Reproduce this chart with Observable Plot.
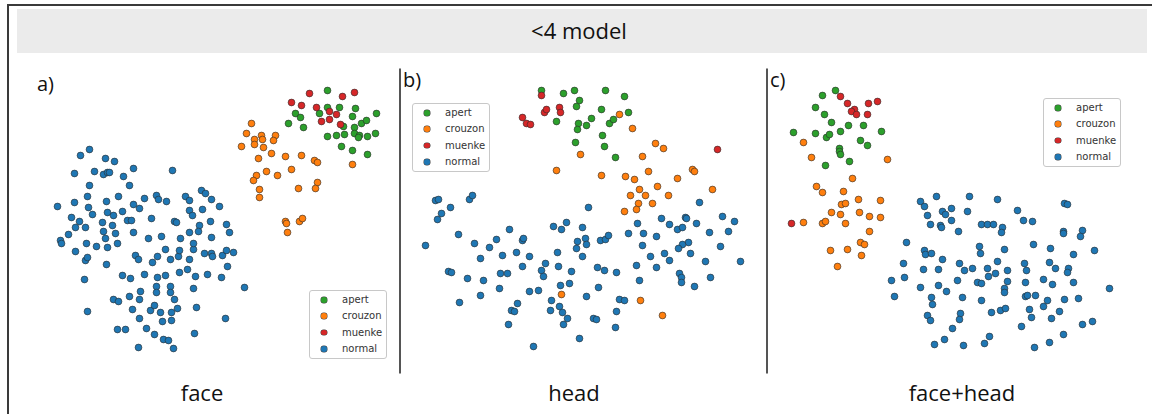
<!DOCTYPE html>
<html>
<head>
<meta charset="utf-8">
<script src="https://cdn.jsdelivr.net/npm/d3@7"></script>
<script src="https://cdn.jsdelivr.net/npm/@observablehq/plot@0.6"></script>
<style>
  html, body { margin: 0; padding: 0; background: #fff; }
  #root { position: relative; width: 1152px; height: 414px; overflow: hidden; font-family: "Open Sans", sans-serif; color: #111; }
  .abs { position: absolute; }
  .legend { position: absolute; width: 78px; height: 69px; box-sizing: border-box; border: 1px solid #c8c8c8; border-radius: 3px; background: #fff; font-family: "DejaVu Sans", sans-serif; font-size: 10px; color: #333; }
  .legend .row { position: absolute; left: 0; height: 16px; line-height: 16px; width: 100%; }
  .legend .mk { position: absolute; left: 11px; top: 5px; width: 5.5px; height: 5.5px; border-radius: 50%; box-shadow: 0 0 0 0.5px #444; }
  .legend .tx { position: absolute; left: 32px; top: 0; }
  .tag { position: absolute; font-size: 20px; line-height: 20px; }
  .cap { position: absolute; font-size: 22px; line-height: 22px; text-align: center; width: 200px; }
</style>
</head>
<body>
<div id="root"></div>
<script>
const categories = ["apert", "crouzon", "muenke", "normal"];
const colors = ["#2ca02c", "#ff7f0e", "#d62728", "#1f77b4"];
const panelNames = ["face", "head", "face+head"];
const panelTags = ["a)", "b)", "c)"];
const title = "<4 model";

// ---- panel a: face ----
const faceApert = [[327,90],[355,108],[339,107],[327,107],[295,113],[300,117],[319,113],[288,123],[303,127],[352,116],[361,123],[366,120],[376,113],[343,126],[354,127],[327,136],[336,135],[344,134],[354,133],[359,135],[358,137],[367,136],[375,133],[341,146],[352,150],[367,154]];
const faceCrouzon = [[251,123],[246,133],[261,135],[275,135],[254,139],[262,139],[273,140],[241,146],[254,144],[263,147],[271,153],[258,158],[285,156],[301,155],[314,160],[317,162],[291,169],[266,171],[277,175],[256,175],[253,180],[317,182],[315,188],[298,188],[259,189],[259,197],[285,221],[286,223],[299,221],[302,218],[287,232],[352,164]];
const faceMuenke = [[309,93],[342,96],[354,92],[291,102],[301,105],[316,107],[329,111],[336,114],[329,119],[321,121],[340,124]];
const faceNormal = [[89,149],[80,155],[105,158],[114,161],[74,173],[94,171],[103,174],[107,172],[109,172],[123,176],[133,168],[172,170],[89,185],[129,185],[87,196],[118,196],[74,202],[57,206],[88,207],[106,201],[92,214],[107,212],[113,215],[122,211],[133,204],[139,208],[144,198],[156,195],[158,199],[166,201],[185,196],[189,200],[201,190],[205,193],[211,199],[219,206],[189,210],[192,215],[202,209],[71,217],[79,221],[75,227],[85,227],[102,222],[127,220],[131,220],[112,225],[151,218],[174,221],[176,222],[210,221],[199,225],[226,224],[68,234],[60,240],[61,243],[103,231],[115,233],[105,238],[133,232],[148,238],[161,236],[180,238],[189,232],[198,231],[211,237],[229,232],[75,251],[86,243],[96,246],[107,247],[117,243],[135,255],[138,259],[157,256],[152,262],[165,249],[170,259],[178,256],[179,250],[193,249],[193,243],[204,253],[211,253],[212,256],[222,255],[226,250],[233,252],[85,260],[87,257],[106,264],[189,259],[227,266],[84,279],[122,275],[130,278],[144,274],[157,277],[165,275],[179,272],[187,269],[195,276],[207,274],[221,277],[244,287],[140,291],[156,286],[156,292],[170,286],[170,292],[193,288],[113,299],[118,301],[129,296],[139,299],[174,299],[87,311],[132,309],[150,310],[154,305],[160,312],[171,312],[177,308],[196,307],[139,318],[162,321],[171,320],[225,318],[117,329],[125,329],[146,328],[154,334],[163,339],[168,340],[194,333],[138,347],[173,348]];

// ---- panel b: head ----
const headApert = [[541,90],[563,93],[574,90],[605,90],[624,96],[579,100],[576,106],[601,109],[628,112],[556,121],[578,123],[577,129],[586,125],[591,118],[609,123],[613,119],[602,135],[575,142],[604,146],[615,157]];
const headCrouzon = [[619,114],[632,128],[580,154],[655,143],[663,148],[642,156],[556,170],[601,175],[625,176],[634,179],[648,171],[692,169],[694,171],[677,178],[712,189],[639,189],[645,195],[657,186],[668,195],[630,195],[638,203],[652,203],[624,211],[636,209],[561,294],[640,300],[662,315]];
const headMuenke = [[541,95],[522,117],[526,123],[530,124],[544,112],[546,109],[559,107],[560,112],[717,149]];
const headNormal = [[435,200],[438,199],[469,199],[472,195],[450,207],[441,213],[437,219],[588,207],[425,245],[458,234],[474,243],[489,247],[496,239],[509,229],[522,240],[523,238],[553,226],[561,229],[566,222],[582,227],[585,238],[577,241],[576,248],[586,244],[600,240],[605,239],[608,235],[628,233],[637,223],[643,233],[656,236],[661,218],[669,224],[677,229],[682,227],[685,217],[686,218],[696,223],[699,202],[722,216],[734,221],[728,231],[709,232],[720,246],[688,242],[682,244],[678,248],[690,253],[705,261],[740,261],[710,277],[694,286],[679,273],[681,277],[681,282],[669,260],[664,253],[650,256],[642,245],[656,267],[636,265],[639,280],[480,258],[502,255],[516,252],[529,256],[557,252],[582,256],[545,263],[558,266],[522,266],[571,271],[541,270],[543,276],[597,267],[604,270],[616,272],[448,271],[451,272],[467,278],[483,280],[500,273],[507,273],[499,288],[529,291],[538,290],[560,285],[569,283],[598,287],[586,296],[480,295],[459,302],[517,303],[511,310],[514,311],[551,300],[559,306],[562,312],[550,310],[567,318],[563,324],[593,318],[596,319],[619,299],[624,300],[616,311],[615,327],[579,338],[533,346],[508,324]];

// ---- panel c: face+head ----
const bothApert = [[835,90],[822,95],[815,107],[824,114],[831,122],[793,132],[815,133],[826,137],[829,134],[840,131],[848,125],[863,125],[881,131],[860,140],[867,145],[839,148],[839,151],[840,154],[849,161],[825,165]];
const bothCrouzon = [[803,142],[811,157],[887,159],[852,178],[816,186],[822,192],[843,191],[858,199],[880,200],[841,204],[845,203],[831,212],[840,214],[859,212],[869,216],[880,217],[803,222],[822,223],[825,221],[845,223],[869,231],[860,242],[864,244],[830,250],[847,249],[861,255],[837,266]];
const bothMuenke = [[840,96],[847,103],[854,109],[851,111],[856,114],[868,103],[877,101],[867,114],[791,223]];
const bothNormal = [[920,201],[924,206],[936,196],[969,196],[997,199],[1064,203],[1067,204],[951,208],[942,211],[945,214],[927,215],[967,211],[1017,210],[951,220],[930,224],[940,225],[941,227],[981,224],[987,224],[993,224],[1002,227],[1001,232],[1023,220],[1032,221],[958,231],[1063,231],[1063,233],[1082,230],[1080,236],[906,242],[924,250],[925,254],[931,253],[942,259],[979,246],[980,253],[1004,249],[1033,244],[1050,248],[1073,254],[1094,250],[903,263],[959,263],[964,270],[972,268],[987,268],[997,261],[1007,270],[1024,263],[1026,270],[1049,262],[1055,268],[1068,268],[1067,272],[923,269],[938,269],[904,277],[891,280],[920,287],[938,285],[946,291],[957,280],[977,282],[981,283],[988,276],[995,273],[1007,281],[1025,282],[1043,279],[1052,284],[1073,282],[1004,288],[1004,292],[1109,288],[894,296],[931,297],[932,304],[962,297],[981,300],[1025,296],[1027,295],[1035,295],[1047,300],[1064,299],[1078,298],[991,312],[1000,310],[1005,308],[1029,309],[1043,306],[1059,311],[927,315],[930,320],[960,313],[959,319],[952,328],[1031,317],[1051,318],[1082,324],[1092,321],[1021,326],[1063,334],[944,339],[934,344],[963,345],[984,343],[989,336],[1034,347],[1049,342]];

function rows(groups) {
  return categories.flatMap((c, i) => groups[i].map(([x, y]) => ({x, y, cls: c})));
}

const panels = [
  {x0: 17, x1: 399, sep: false, groups: [faceApert, faceCrouzon, faceMuenke, faceNormal], legend: [309, 290], tag: [37, 74]},
  {x0: 399, x1: 766, sep: true, groups: [headApert, headCrouzon, headMuenke, headNormal], legend: [412, 103], tag: [403, 70]},
  {x0: 766, x1: 1150, sep: true, groups: [bothApert, bothCrouzon, bothMuenke, bothNormal], legend: [1043, 98], tag: [770, 70]}
];
const capCenters = [202, 574, 962];

const root = document.getElementById("root");
function add(html) { root.insertAdjacentHTML("beforeend", html); }

// outer frame and title band
add(`<div class="abs" style="left:7px;top:4px;width:1145px;height:2px;background:#3a3a3a"></div>`);
add(`<div class="abs" style="left:7px;top:4px;width:1.5px;height:410px;background:#3a3a3a"></div>`);
add(`<div class="abs" style="left:17px;top:9px;width:1130px;height:44px;background:#ebebeb"></div>`);
add(`<div class="abs" style="left:17px;top:15px;width:1124px;text-align:center;font-size:22px;line-height:30px;color:#111"></div>`);
root.lastElementChild.textContent = title;

panels.forEach((p, k) => {
  const data = rows(p.groups);
  const W = p.x1 - p.x0;
  const chart = Plot.plot({
    width: W,
    height: 320,
    margin: 0,
    style: {background: "transparent", overflow: "visible"},
    x: {domain: [p.x0, p.x1], axis: null},
    y: {domain: [60, 380], reverse: true, axis: null},
    color: {domain: categories, range: colors},
    marks: [
      p.sep ? Plot.frame({anchor: "left", insetTop: 9, insetBottom: 8, insetLeft: 0.5, stroke: "#555", strokeWidth: 2}) : null,
      Plot.dot(data, {x: "x", y: "y", fill: "cls", r: 3.4, stroke: "#2a2a2a", strokeWidth: 0.6})
    ]
  });
  const holder = document.createElement("div");
  holder.className = "abs";
  holder.style.left = p.x0 + "px";
  holder.style.top = "60px";
  holder.appendChild(chart);
  root.appendChild(holder);

  // panel tag
  const tg = document.createElement("div");
  tg.className = "tag";
  tg.style.left = p.tag[0] + "px";
  tg.style.top = p.tag[1] + "px";
  tg.textContent = panelTags[k];
  root.appendChild(tg);

  // legend
  const lg = document.createElement("div");
  lg.className = "legend";
  lg.style.left = p.legend[0] + "px";
  lg.style.top = p.legend[1] + "px";
  categories.forEach((c, i) => {
    const r = document.createElement("div");
    r.className = "row";
    r.style.top = (1 + 16.4 * i) + "px";
    r.innerHTML = `<span class="mk" style="background:${colors[i]}"></span><span class="tx"></span>`;
    r.querySelector(".tx").textContent = c;
    lg.appendChild(r);
  });
  root.appendChild(lg);

  // caption
  const cp = document.createElement("div");
  cp.className = "cap";
  cp.style.left = (capCenters[k] - 100) + "px";
  cp.style.top = "381px";
  cp.textContent = panelNames[k];
  root.appendChild(cp);
});
</script>
</body>
</html>
